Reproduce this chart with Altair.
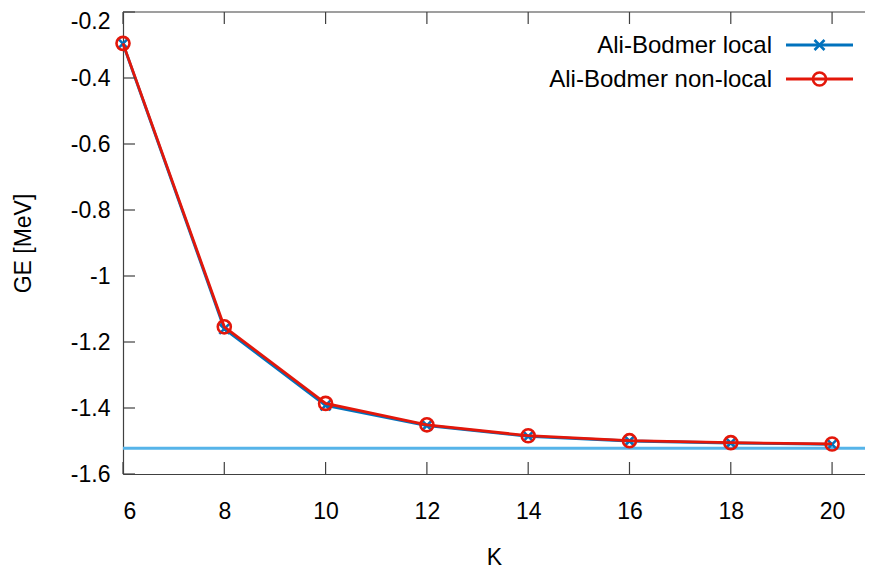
import altair as alt
import pandas as pd

# ---- data ----
K = [6, 8, 10, 12, 14, 16, 18, 20]
local_vals = [-0.296, -1.160, -1.392, -1.453, -1.486, -1.500, -1.506, -1.510]
nonlocal_vals = [-0.295, -1.154, -1.386, -1.451, -1.484, -1.499, -1.505, -1.509]
reference_value = [-1.522]
series_names = ["Ali-Bodmer local", "Ali-Bodmer non-local"]
x_ticks = [6, 8, 10, 12, 14, 16, 18, 20]
y_ticks = [-1.6, -1.4, -1.2, -1.0, -0.8, -0.6, -0.4, -0.2]

# ---- styling ----
W, H = 742, 462
BLUE = "#0072bd"
RED = "#e3170a"
LIGHT = "#56b4e9"
AXC = "#404040"
FONT = "Liberation Sans"
FS = 23
TICK = 12

xscale = alt.Scale(domain=[6, 20.65], nice=False, zero=False)
yscale = alt.Scale(domain=[-1.6, -0.2], nice=False, zero=False)

df_local = pd.DataFrame({"K": K, "GE": local_vals})
df_nonlocal = pd.DataFrame({"K": K, "GE": nonlocal_vals})
df_ref = pd.DataFrame({"GE": reference_value})
df_xt = pd.DataFrame({"K": x_ticks})
df_yt = pd.DataFrame({"GE": y_ticks})

x_axis = alt.Axis(
    values=x_ticks, tickSize=0, grid=False, labelFontSize=FS, labelPadding=26,
    labelExpr="'' + datum.value", domainColor=AXC, domainWidth=1.2,
    labelColor="#000000", title="K", titleFontSize=23, titleFontWeight="normal",
    titlePadding=23, titleColor="#000000",
)
y_axis = alt.Axis(
    values=y_ticks, tickSize=0, grid=False, labelFontSize=FS, labelPadding=13,
    labelExpr="'' + datum.value", domainColor=AXC, domainWidth=1.2,
    labelColor="#000000", title="GE [MeV]", titleFontSize=FS, titleFontWeight="normal",
    titlePadding=35, titleColor="#000000",
    labelOffset={"condition": {"test": "datum.value > -0.25", "value": 9}, "value": 0},
)

def X():
    return alt.X("K:Q", scale=xscale, axis=x_axis)

def Y():
    return alt.Y("GE:Q", scale=yscale, axis=y_axis)

ref_line = alt.Chart(df_ref).mark_rule(color=LIGHT, strokeWidth=3).encode(
    y=Y(), x=alt.value(0), x2=alt.value(W),
)

def series(df, color, shape, size):
    base = alt.Chart(df).encode(x=X(), y=Y())
    line = base.mark_line(color=color, strokeWidth=2.8)
    pts = base.mark_point(shape=shape, size=size, filled=False, color=color,
                          strokeWidth=2.6, opacity=1)
    return line + pts

XSHAPE = "M-1,-1L1,1M-1,1L1,-1"
s_local = series(df_local, BLUE, XSHAPE, 100)
s_nonlocal = series(df_nonlocal, RED, "circle", 170)

# border ticks (inward, gnuplot style)
bt = alt.Chart(df_xt).mark_rule(color=AXC, strokeWidth=1.2).encode(
    x=X(), y=alt.value(H - TICK), y2=alt.value(H))
tt = alt.Chart(df_xt).mark_rule(color=AXC, strokeWidth=1.2).encode(
    x=X(), y=alt.value(0), y2=alt.value(TICK))
lt = alt.Chart(df_yt).mark_rule(color=AXC, strokeWidth=1.2).encode(
    y=Y(), x=alt.value(0), x2=alt.value(TICK))
top_border = alt.Chart(df_ref).mark_rule(color=AXC, strokeWidth=1.2).encode(
    y=alt.value(0), x=alt.value(0), x2=alt.value(W))

# custom legend (text to the left of the sample, as in gnuplot)
LX_TEXT, LX0, LX1 = 649, 663, 730
LY = [33, 67]
legend_layers = []
for name, color, shape, size, ly in [
    (series_names[0], BLUE, XSHAPE, 100, LY[0]),
    (series_names[1], RED, "circle", 170, LY[1]),
]:
    d = pd.DataFrame({"label": [name]})
    legend_layers.append(alt.Chart(d).mark_text(
        align="right", baseline="middle", fontSize=24, font=FONT, color="#000000"
    ).encode(text="label:N", x=alt.value(LX_TEXT), y=alt.value(ly + 1)))
    legend_layers.append(alt.Chart(d).mark_rule(color=color, strokeWidth=2.8).encode(
        x=alt.value(LX0), x2=alt.value(LX1), y=alt.value(ly)))
    legend_layers.append(alt.Chart(d).mark_point(
        shape=shape, size=size, filled=False, color=color, strokeWidth=2.6, opacity=1
    ).encode(x=alt.value((LX0 + LX1) / 2), y=alt.value(ly)))

chart = alt.layer(
    ref_line, s_local, s_nonlocal, bt, tt, lt, top_border, *legend_layers
).properties(
    width=W, height=H,
    autosize=alt.AutoSizeParams(type="none"),
    padding={"left": 115, "top": 4, "right": 0, "bottom": 96},
).configure(font=FONT).configure_view(stroke="transparent")

chart.save("out.html", embed_options={"renderer": "svg", "actions": False})
